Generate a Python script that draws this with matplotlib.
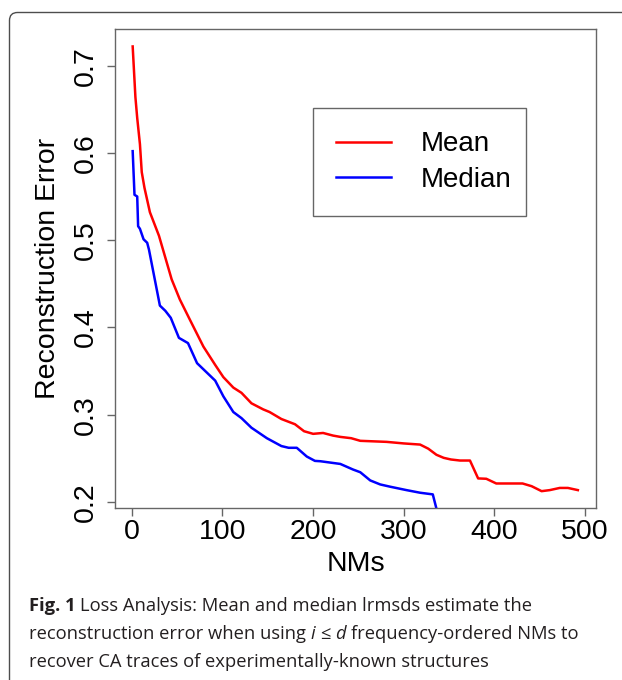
import matplotlib
matplotlib.use("Agg")
import matplotlib.pyplot as plt
from matplotlib.patches import FancyBboxPatch
from matplotlib.transforms import IdentityTransform

# Loss analysis: reconstruction error vs number of normal modes used
mean_x = [1, 4, 6, 9, 11, 14, 20, 30, 44, 53, 64, 79, 92, 101, 112, 121, 132,
          145, 152, 165, 180, 190, 200, 211, 222, 230, 242, 252, 281, 300, 318,
          327, 336, 344, 352, 362, 373, 382, 391, 402, 431, 441, 452, 461, 472,
          481, 492]
mean_y = [0.722, 0.664, 0.640, 0.610, 0.578, 0.560, 0.532, 0.505, 0.455, 0.432,
          0.409, 0.378, 0.357, 0.343, 0.331, 0.325, 0.313, 0.306, 0.303, 0.295,
          0.289, 0.281, 0.278, 0.279, 0.276, 0.2745, 0.273, 0.270, 0.2688,
          0.267, 0.2657, 0.261, 0.254, 0.2505, 0.2486, 0.2474, 0.2474, 0.2269,
          0.2265, 0.2211, 0.2211, 0.218, 0.2123, 0.2135, 0.216, 0.216, 0.2135]

median_x = [1, 3, 6, 7, 9, 13, 17, 19, 31, 37, 43, 52, 62, 72, 83, 92, 101,
            112, 121, 132, 149, 165, 173, 182, 193, 202, 208, 230, 244, 252,
            263, 274, 285, 303, 318, 332, 341]
median_y = [0.602, 0.552, 0.550, 0.516, 0.513, 0.501, 0.497, 0.489, 0.425,
            0.419, 0.411, 0.388, 0.382, 0.359, 0.348, 0.339, 0.321, 0.303,
            0.296, 0.285, 0.273, 0.264, 0.262, 0.262, 0.252, 0.247, 0.2466,
            0.2435, 0.2371, 0.234, 0.2246, 0.22, 0.2174, 0.2135, 0.2105,
            0.2086, 0.172]

series_labels = ["Mean", "Median"]
x_ticks = [0, 100, 200, 300, 400, 500]
y_ticks = [0.2, 0.3, 0.4, 0.5, 0.6, 0.7]
y_tick_labels = ["0.2", "0.3", "0.4", "0.5", "0.6", "0.7"]
x_label = "NMs"
y_label = "Reconstruction Error"

W, H = 622, 680
fig = plt.figure(figsize=(W / 100, H / 100), dpi=100)
fig.patch.set_facecolor("white")

frame_col = "#666666"
plot_font = "Liberation Sans"

ax = fig.add_axes([115 / W, 1 - 508 / H, 481 / W, 479 / H])
ax.plot(mean_x, mean_y, color="#ff0000", lw=1.8, label=series_labels[0])
ax.plot(median_x, median_y, color="#0000ff", lw=1.8, label=series_labels[1])

ax.set_xlim(-18.5, 512)
ax.set_ylim(0.193, 0.742)
ax.set_xticks(x_ticks)
ax.set_xticklabels([str(v) for v in x_ticks])
ax.set_yticks(y_ticks)
ax.set_yticklabels(y_tick_labels, rotation=90, va="center")

for sp in ax.spines.values():
    sp.set_color(frame_col)
    sp.set_linewidth(1.0)
ax.tick_params(axis="both", colors=frame_col, length=5.8, width=1.0,
               labelcolor="black", labelsize=20.5)
ax.tick_params(axis="y", pad=5.5)
ax.tick_params(axis="x", pad=2.0)
for lab in ax.get_xticklabels() + ax.get_yticklabels():
    lab.set_fontfamily(plot_font)

ax.set_xlabel(x_label, fontsize=20.5, fontfamily=plot_font)
ax.set_ylabel(y_label, fontsize=20.5, fontfamily=plot_font)
ax.xaxis.label.set_verticalalignment("center")
ax.yaxis.label.set_verticalalignment("center")
ax.xaxis.set_label_coords(0.5, (508 - 564) / 479)
ax.yaxis.set_label_coords((48 - 115) / 481, 0.5)

leg = ax.legend(loc="upper left",
                bbox_to_anchor=(313 / W, 1 - 215 / H, 213 / W, 107 / H),
                bbox_transform=fig.transFigure, mode="expand", borderaxespad=0,
                fancybox=False, framealpha=1, edgecolor=frame_col,
                prop={"family": plot_font, "size": 20},
                handlelength=1.98, handletextpad=1.05, borderpad=0.84,
                labelspacing=0.35)
leg.get_frame().set_linewidth(1.0)

# outer panel border with rounded top-left corner
border = FancyBboxPatch((9.5, -40), 700, (H - 12.5) + 40,
                        boxstyle="round,pad=0,rounding_size=8",
                        transform=IdentityTransform(), facecolor="none",
                        edgecolor="#4d4d4d", lw=1.0)
fig.patches.append(border)

# caption, laid out run by run so mixed weights/styles sit on one line
cap_font = ["Open Sans", "DejaVu Sans"]
cap_size = 13.2
cap_col = "#231f20"
renderer = fig.canvas.get_renderer()


def run_width(txt, **kw):
    t = fig.text(0, 0, txt, fontsize=cap_size, **kw)
    w = t.get_window_extent(renderer).width
    t.remove()
    return w


space_w = run_width("x x", family=cap_font) - run_width("xx", family=cap_font)


def draw_line(x_px, base_px, runs):
    x = x_px
    for i, (txt, kw) in enumerate(runs):
        if i:
            x += space_w
        t = fig.text(x / W, 1 - base_px / H, txt, ha="left", va="baseline",
                     fontsize=cap_size, color=cap_col, **kw)
        x += t.get_window_extent(renderer).width


reg = dict(family=cap_font)
bold = dict(family=cap_font, weight="bold")
ital = dict(family=cap_font, style="italic")

draw_line(29, 611, [("Fig. 1", bold),
                    ("Loss Analysis: Mean and median lrmsds estimate the", reg)])
draw_line(29, 639, [("reconstruction error when using", reg), ("i", ital),
                    ("\u2264", reg), ("d", ital),
                    ("frequency-ordered NMs to", reg)])
draw_line(29, 667, [("recover CA traces of experimentally-known structures", reg)])

fig.savefig("out.png", dpi=100)
